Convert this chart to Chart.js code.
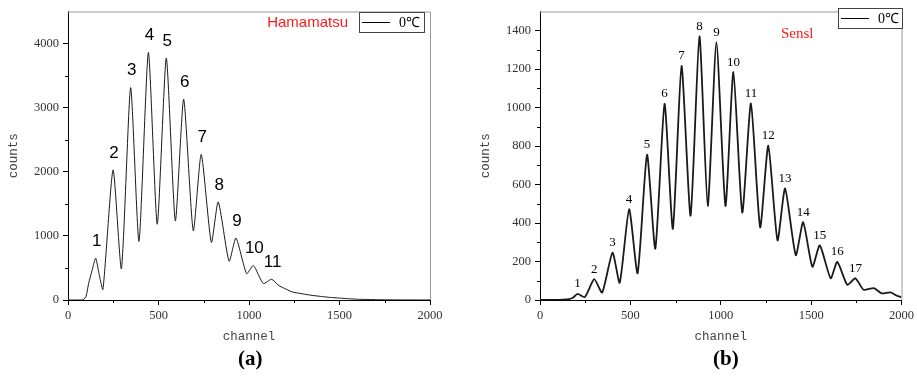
<!DOCTYPE html>
<html>
<head>
<meta charset="utf-8">
<script src="https://cdn.jsdelivr.net/npm/chart.js@4.4.0/dist/chart.umd.min.js"></script>
<style>
  body { margin: 0; background: #fff; }
  #wrap { position: relative; width: 917px; height: 376px; overflow: hidden; }
  .panel { position: absolute; top: 0; }
  #boxA { left: 0; }
  #boxB { left: 458px; }
  .tag { position: absolute; top: 346px; font: bold 21px "Liberation Serif", "Times New Roman", serif; color: #000; }
</style>
</head>
<body>
<div id="wrap">
  <div class="panel" id="boxA"><canvas id="chartA" width="458" height="376"></canvas></div>
  <div class="panel" id="boxB"><canvas id="chartB" width="459" height="376"></canvas></div>
  <div class="tag" style="left:238px">(a)</div>
  <div class="tag" style="left:713px">(b)</div>
</div>
<script>
// Hamamatsu spectrum (channel, counts)
const channelA = [0, 70, 85, 100, 114, 133, 153, 172, 193, 249, 295, 346, 392, 444, 493, 543, 593, 639, 692, 736, 792, 830, 890, 928, 987, 1024, 1079, 1125, 1162, 1205, 1240, 1282, 1340, 1400, 1450, 1500, 1550, 1600, 1700, 1800, 2000];
const countsA  = [0, 0, 5, 60, 257, 462, 652, 400, 165, 2029, 488, 3313, 914, 3860, 1182, 3775, 1233, 3133, 1079, 2270, 898, 1530, 606, 966, 411, 539, 257, 324, 231, 168, 125, 103, 75, 55, 40, 30, 20, 12, 5, 2, 0];
const peakChA     = [153, 249, 346, 444, 543, 639, 736, 830, 928, 1024, 1125];
const peakCountsA = [652, 2029, 3313, 3860, 3775, 3133, 2270, 1530, 966, 539, 324];

// Sensl spectrum
const channelB = [0, 100, 150, 180, 208, 248, 300, 344, 401, 441, 493, 540, 592, 638, 689, 735, 783, 833, 882, 928, 976, 1026, 1070, 1119, 1167, 1218, 1263, 1314, 1356, 1415, 1456, 1507, 1548, 1608, 1645, 1700, 1745, 1790, 1847, 1890, 1939, 1975, 2000];
const countsB  = [0, 0, 3, 10, 32, 15, 108, 39, 246, 90, 472, 139, 755, 267, 1020, 370, 1217, 438, 1371, 489, 1340, 489, 1185, 455, 1022, 378, 802, 310, 580, 233, 404, 173, 284, 113, 198, 79, 113, 53, 62, 35, 40, 22, 15];
const peakChB     = [208, 300, 401, 493, 592, 689, 783, 882, 976, 1070, 1167, 1263, 1356, 1456, 1548, 1645, 1745];
const peakCountsB = [32, 108, 246, 472, 755, 1020, 1217, 1371, 1340, 1185, 1022, 802, 580, 404, 284, 198, 113];

// axis ticks
const xTicks = [0, 500, 1000, 1500, 2000];
const xMinor = [250, 750, 1250, 1750];
const yTicksA = [0, 1000, 2000, 3000, 4000];
const yMinorA = [500, 1500, 2500, 3500];
const yTicksB = [0, 200, 400, 600, 800, 1000, 1200, 1400];
const yMinorB = [100, 300, 500, 700, 900, 1100, 1300];

const serif = '"Liberation Serif", "Times New Roman", serif';
const mono = '"Liberation Mono", "Courier New", monospace';

// numbers above the peaks
const peakLabels = {
  id: 'peakLabels',
  afterDatasetsDraw(chart, args, opts) {
    const { ctx, scales: { x, y } } = chart;
    ctx.save();
    ctx.font = opts.font;
    ctx.fillStyle = '#000';
    ctx.textAlign = 'center';
    ctx.textBaseline = 'middle';
    opts.ch.forEach((c, i) => {
      ctx.fillText(String(i + 1), x.getPixelForValue(c) + opts.dx, y.getPixelForValue(opts.counts[i]) - opts.gap);
    });
    ctx.restore();
  }
};

// grey frame, minor ticks, legend box, brand name
const frameAndNotes = {
  id: 'frameAndNotes',
  afterDraw(chart, args, opts) {
    const { ctx, chartArea: a, scales: { x, y } } = chart;
    ctx.save();
    ctx.strokeStyle = '#999';
    ctx.lineWidth = 1;
    ctx.beginPath();
    ctx.moveTo(a.left, a.top + 0.5); ctx.lineTo(a.right + 0.5, a.top + 0.5);
    ctx.lineTo(a.right + 0.5, a.bottom);
    ctx.stroke();

    ctx.strokeStyle = '#000';
    ctx.beginPath();
    opts.minorX.forEach(v => {
      const px = Math.round(x.getPixelForValue(v)) + 0.5;
      ctx.moveTo(px, a.bottom); ctx.lineTo(px, a.bottom + 3);
    });
    opts.minorY.forEach(v => {
      const py = Math.round(y.getPixelForValue(v)) + 0.5;
      ctx.moveTo(a.left - 3, py); ctx.lineTo(a.left, py);
    });
    ctx.stroke();

    // legend
    const L = opts.legend;
    ctx.fillStyle = '#fff';
    ctx.fillRect(L.x, L.y, L.w, L.h);
    ctx.strokeStyle = '#444';
    ctx.strokeRect(L.x + 0.5, L.y + 0.5, L.w, L.h);
    ctx.strokeStyle = '#000';
    ctx.beginPath();
    ctx.moveTo(L.x + 3, L.y + L.h / 2 + 0.5); ctx.lineTo(L.x + 31, L.y + L.h / 2 + 0.5);
    ctx.stroke();
    ctx.fillStyle = '#000';
    ctx.font = '14px ' + serif;
    ctx.textBaseline = 'middle';
    ctx.textAlign = 'left';
    ctx.fillText('0℃', L.x + 40, L.y + L.h / 2 + 1);

    const B = opts.brand;
    ctx.fillStyle = '#ff1a1a';
    ctx.font = B.font;
    ctx.textAlign = B.align;
    ctx.fillText(B.text, B.x, B.y);
    ctx.restore();
  }
};

const plain = v => String(v);

function makeChart(id, xs, ys, cfg) {
  const points = xs.map((c, i) => ({ x: c, y: ys[i] }));
  return new Chart(document.getElementById(id), {
    type: 'line',
    data: {
      datasets: [{
        data: points,
        borderColor: '#1a1a1a',
        borderWidth: cfg.lineWidth,
        pointRadius: 0,
        tension: 0.2,
        fill: false
      }]
    },
    options: {
      responsive: false,
      animation: false,
      layout: { padding: cfg.padding },
      plugins: {
        legend: { display: false },
        tooltip: { enabled: false },
        peakLabels: cfg.peaks,
        frameAndNotes: cfg.notes
      },
      scales: {
        x: {
          type: 'linear', min: 0, max: 2000,
          afterBuildTicks: s => { s.ticks = xTicks.map(v => ({ value: v })); },
          afterFit: s => { s.height = 44; },
          grid: { drawOnChartArea: false, tickLength: 5, tickColor: '#000' },
          border: { color: '#000', width: 1 },
          ticks: { padding: 3, maxRotation: 0, color: '#333', callback: plain, font: { family: serif, size: 12.5 } },
          title: { display: true, text: 'channel', color: '#444', padding: 0, font: { family: mono, size: 12.5 } }
        },
        y: {
          type: 'linear', min: 0, max: cfg.yMax,
          afterBuildTicks: s => { s.ticks = cfg.yTicks.map(v => ({ value: v })); },
          afterFit: s => { s.width = 62; },
          grid: { drawOnChartArea: false, tickLength: 5, tickColor: '#000' },
          border: { color: '#000', width: 1 },
          ticks: { padding: 4, color: '#333', callback: plain, font: { family: serif, size: 12.5 } },
          title: { display: true, text: 'counts', color: '#444', padding: 0, font: { family: mono, size: 12.5 } }
        }
      }
    },
    plugins: [peakLabels, frameAndNotes]
  });
}

makeChart('chartA', channelA, countsA, {
  lineWidth: 1,
  yMax: 4500,
  yTicks: yTicksA,
  padding: { left: 6, top: 8, right: 28, bottom: 32 },
  peaks: { ch: peakChA, counts: peakCountsA, font: '17px "Liberation Sans", Arial, sans-serif', dx: 1, gap: 17 },
  notes: {
    minorX: xMinor, minorY: yMinorA,
    legend: { x: 359, y: 12, w: 65, h: 20 },
    brand: { text: 'Hamamatsu', font: '15px "Liberation Sans", Arial, sans-serif', align: 'right', x: 348, y: 23 }
  }
});

makeChart('chartB', channelB, countsB, {
  lineWidth: 1.8,
  yMax: 1500,
  yTicks: yTicksB,
  padding: { left: 20, top: 8, right: 14, bottom: 32 },
  peaks: { ch: peakChB, counts: peakCountsB, font: '13px ' + serif, dx: 0, gap: 10 },
  notes: {
    minorX: xMinor, minorY: yMinorB,
    legend: { x: 380, y: 8, w: 64, h: 20 },
    brand: { text: 'Sensl', font: '15px ' + serif, align: 'left', x: 323, y: 34 }
  }
});
</script>
</body>
</html>
